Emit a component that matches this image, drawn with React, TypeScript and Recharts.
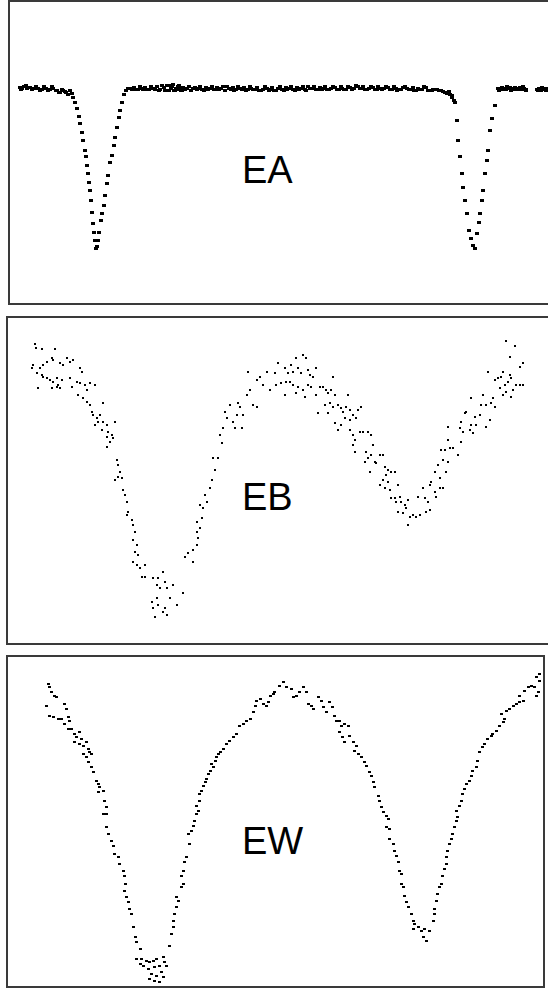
import { ScatterChart, Scatter, XAxis, YAxis } from "recharts";

// light curves: [phase, delta mag] (mag grows downward)
const EA_DATA: [number, number][] = [
  [-0.201, -0.005], [-0.195, 0], [-0.19, -0.01], [-0.182, 0], [-0.174, -0.005], [-0.164, 0],
  [-0.153, 0], [-0.142, 0.005], [-0.132, 0], [-0.121, 0.005], [-0.113, 0], [-0.106, 0.01],
  [-0.098, 0.02], [-0.09, 0.005], [-0.082, 0.015], [-0.074, 0.03], [-0.069, 0.01], [-0.063, 0.025],
  [-0.061, 0.045], [-0.055, 0.07], [-0.05, 0.1], [-0.045, 0.14], [-0.042, 0.175], [-0.037, 0.22],
  [-0.034, 0.26], [-0.029, 0.31], [-0.026, 0.345], [-0.024, 0.385], [-0.021, 0.425], [-0.018, 0.47],
  [-0.016, 0.51], [-0.013, 0.56], [-0.011, 0.62], [-0.008, 0.675], [-0.005, 0.72], [-0.003, 0.76],
  [0, 0.8], [0.003, 0.79], [0.005, 0.76], [0.008, 0.72], [0.013, 0.66], [0.016, 0.625],
  [0.021, 0.585], [0.024, 0.535], [0.029, 0.475], [0.032, 0.435], [0.037, 0.375], [0.042, 0.335],
  [0.048, 0.285], [0.05, 0.245], [0.055, 0.195], [0.061, 0.145], [0.063, 0.11], [0.069, 0.07],
  [0.074, 0.03], [0.079, 0.01], [0.084, 0],
  [0.09, 0], [0.1, -0.005], [0.11, 0.005], [0.12, 0], [0.13, -0.005], [0.14, 0.005], [0.15, 0],
  [0.16, -0.01], [0.17, 0.005], [0.18, -0.005], [0.185, 0.01], [0.19, 0.01], [0.195, -0.015],
  [0.2, -0.01], [0.205, 0.01], [0.21, 0], [0.215, -0.01], [0.22, 0.005], [0.225, 0.01],
  [0.23, -0.005], [0.24, 0], [0.25, 0.01], [0.26, -0.005], [0.27, 0], [0.28, 0.005], [0.29, -0.005],
  [0.3, 0], [0.31, 0.005], [0.32, -0.005], [0.33, 0], [0.34, 0.01], [0.35, 0], [0.36, -0.005],
  [0.37, 0.005], [0.38, 0], [0.39, -0.005], [0.4, 0.005], [0.41, 0], [0.42, 0.005], [0.43, 0.01],
  [0.44, 0.005], [0.45, 0], [0.46, 0.005], [0.47, 0.01], [0.48, 0], [0.49, 0.005], [0.5, -0.005],
  [0.51, 0], [0.52, 0.005], [0.53, -0.005], [0.54, 0], [0.55, 0.005], [0.56, -0.01], [0.57, 0],
  [0.58, 0.005], [0.59, -0.005], [0.6, 0], [0.61, 0.005], [0.62, 0], [0.63, -0.005], [0.64, 0.005],
  [0.65, 0], [0.66, 0.005], [0.67, -0.005], [0.68, 0], [0.69, -0.01], [0.7, 0], [0.71, 0.005],
  [0.72, 0], [0.73, -0.005], [0.74, 0.005], [0.75, 0], [0.76, 0], [0.77, -0.005], [0.78, 0.005],
  [0.79, 0], [0.8, 0.005], [0.81, -0.005], [0.82, 0], [0.83, 0.005], [0.84, 0.01], [0.85, 0],
  [0.86, 0.005], [0.87, -0.005], [0.88, 0.01], [0.89, 0.005], [0.9, 0.005], [0.91, 0.01],
  [0.92, 0.02], [0.93, 0.015], [0.935, 0.03], [0.94, 0.045], [0.945, 0.06], [0.947, 0.07],
  [0.9525, 0.16], [0.955, 0.26], [0.96, 0.345], [0.966, 0.425], [0.968, 0.495], [0.974, 0.56],
  [0.979, 0.625], [0.984, 0.71], [0.989, 0.75], [0.995, 0.785], [1.0, 0.8], [1.005, 0.725],
  [1.011, 0.67], [1.013, 0.625], [1.018, 0.56], [1.021, 0.51], [1.026, 0.425], [1.032, 0.36],
  [1.034, 0.31], [1.04, 0.21], [1.045, 0.15], [1.053, 0.085],
  [1.061, 0], [1.066, 0.005], [1.071, -0.005], [1.076, 0], [1.082, 0.005], [1.087, 0],
  [1.092, -0.005], [1.097, 0.005], [1.103, 0], [1.108, 0.005], [1.113, 0], [1.118, -0.005],
  [1.124, 0.005], [1.13, 0], [1.135, 0.005],
  [1.164, 0.005], [1.169, 0], [1.174, 0.01], [1.18, 0], [1.185, 0.005], [1.19, 0], [1.195, 0.005],
];

// extra out-of-eclipse EA measurements (the band is dense in the original)
const EA_BASELINE_EXTRA: [number, number][] = [
  [-0.198, 0.008], [-0.186, -0.012], [-0.17, 0.008], [-0.158, -0.01], [-0.147, 0.01], [-0.137, -0.008],
  [-0.126, 0.01], [-0.117, -0.006], [-0.102, 0.014], [-0.094, 0.022], [-0.086, 0.012], [-0.078, 0.024],
  [0.095, 0.008], [0.105, 0.006], [0.115, -0.01], [0.125, 0.008], [0.135, 0.006], [0.145, -0.008],
  [0.155, 0.008], [0.165, 0.012], [0.175, -0.012], [0.183, 0.014], [0.188, -0.012], [0.193, 0.014],
  [0.198, 0.004], [0.203, -0.016], [0.208, 0.014], [0.213, 0.006], [0.218, -0.014], [0.223, -0.004],
  [0.228, 0.012], [0.235, 0.006], [0.245, -0.01], [0.255, 0.004], [0.265, 0.008], [0.275, -0.008],
  [0.285, 0.01], [0.295, 0.006], [0.305, -0.01], [0.315, 0.008], [0.325, 0.006], [0.335, -0.008],
  [0.345, -0.006], [0.355, 0.008], [0.365, 0.01], [0.375, -0.008], [0.385, 0.006], [0.395, 0.01],
  [0.405, -0.008], [0.415, 0.008], [0.425, -0.004], [0.435, 0.014], [0.445, -0.006], [0.455, 0.01],
  [0.465, -0.004], [0.475, 0.014], [0.485, -0.006], [0.495, 0.01], [0.505, 0.008], [0.515, -0.01],
  [0.525, 0.01], [0.535, 0.006], [0.545, -0.01], [0.555, 0.01], [0.565, 0.004], [0.575, -0.008],
  [0.585, 0.008], [0.595, 0.006], [0.605, -0.01], [0.615, 0.008], [0.625, -0.01], [0.635, 0.008],
  [0.645, -0.006], [0.655, 0.008], [0.665, -0.008], [0.675, 0.006], [0.685, -0.014], [0.695, 0.004],
  [0.705, -0.008], [0.715, 0.008], [0.725, -0.01], [0.735, 0.008], [0.745, -0.006], [0.755, 0.006],
  [0.765, -0.008], [0.775, 0.008], [0.785, -0.006], [0.795, 0.01], [0.805, 0.006], [0.815, -0.008],
  [0.825, 0.008], [0.835, -0.004], [0.845, 0.014], [0.855, 0.006], [0.865, -0.006], [0.875, 0.01],
  [0.885, 0.014], [0.895, 0.008], [0.905, 0.014], [0.915, 0.016], [0.925, 0.026], [0.938, 0.036],
  [1.064, 0.01], [1.074, 0.006], [1.085, -0.006], [1.095, 0.01], [1.106, -0.004], [1.116, 0.008],
  [1.127, -0.006], [1.133, 0.01], [1.167, 0.012], [1.177, -0.004], [1.188, 0.012],
];

const EB_DATA: [number, number][] = [
  [-0.25, 0.047], [-0.248, 0.067], [-0.236, 0.07], [-0.21, 0.07], [-0.254, 0.15], [-0.256, 0.165],
  [-0.24, 0.165], [-0.234, 0.15], [-0.226, 0.135], [-0.216, 0.115], [-0.214, 0.125], [-0.2, 0.14],
  [-0.194, 0.15], [-0.186, 0.115], [-0.18, 0.135], [-0.174, 0.125], [-0.246, 0.19], [-0.236, 0.2],
  [-0.234, 0.21], [-0.226, 0.215], [-0.22, 0.225], [-0.214, 0.235], [-0.206, 0.215], [-0.204, 0.25],
  [-0.196, 0.225], [-0.244, 0.265], [-0.216, 0.265], [-0.206, 0.26], [-0.2, 0.265], [-0.18, 0.215],
  [-0.176, 0.26], [-0.16, 0.165], [-0.156, 0.185], [-0.166, 0.235], [-0.16, 0.24], [-0.15, 0.25],
  [-0.14, 0.24], [-0.13, 0.25], [-0.164, 0.3], [-0.154, 0.315], [-0.146, 0.335], [-0.14, 0.35],
  [-0.146, 0.275], [-0.114, 0.34], [-0.136, 0.385], [-0.134, 0.4], [-0.126, 0.415], [-0.12, 0.4],
  [-0.124, 0.435], [-0.114, 0.435], [-0.106, 0.45], [-0.09, 0.435], [-0.13, 0.45], [-0.116, 0.475],
  [-0.104, 0.485], [-0.096, 0.5], [-0.094, 0.515], [-0.106, 0.51], [-0.1, 0.535], [-0.106, 0.56],
  [-0.086, 0.625], [-0.084, 0.65], [-0.08, 0.685], [-0.09, 0.725], [-0.084, 0.71], [-0.076, 0.715],
  [-0.074, 0.775], [-0.07, 0.8], [-0.066, 0.835], [-0.064, 0.885], [-0.066, 0.9], [-0.056, 0.925],
  [-0.054, 0.95], [-0.05, 0.985], [-0.054, 1.025], [-0.046, 1.05], [-0.05, 1.085], [-0.044, 1.1],
  [-0.054, 1.135], [-0.046, 1.15], [-0.04, 1.165], [-0.03, 1.15],
  [-0.036, 1.21], [-0.03, 1.21], [-0.014, 1.215], [-0.004, 1.215], [0.006, 1.185], [0.01, 1.235],
  [-0.006, 1.25], [0, 1.265], [0.014, 1.265], [0.026, 1.25], [0.046, 1.29], [-0.006, 1.315],
  [0.02, 1.315], [-0.016, 1.335], [-0.004, 1.35], [0.01, 1.365], [0.034, 1.35], [-0.014, 1.365],
  [0.006, 1.385], [0.014, 1.4], [-0.01, 1.41],
  [0.05, 1.11], [0.056, 1.09], [0.066, 1.075], [0.066, 1.135], [0.074, 1.05], [0.076, 1.015],
  [0.074, 0.985], [0.08, 0.965], [0.084, 0.915], [0.074, 0.935], [0.086, 0.865], [0.094, 0.835],
  [0.08, 0.85], [0.09, 0.8], [0.1, 0.765], [0.104, 0.725], [0.11, 0.675], [0.116, 0.615],
  [0.106, 0.615], [0.124, 0.54], [0.12, 0.5], [0.126, 0.465], [0.134, 0.415], [0.13, 0.385],
  [0.14, 0.35], [0.146, 0.435], [0.15, 0.465], [0.154, 0.4], [0.156, 0.34], [0.16, 0.36],
  [0.166, 0.4], [0.164, 0.465], [0.174, 0.3], [0.18, 0.275], [0.186, 0.35], [0.194, 0.36],
  [0.194, 0.225], [0.2, 0.21], [0.206, 0.25], [0.214, 0.185], [0.22, 0.275], [0.176, 0.185],
  [0.23, 0.19], [0.236, 0.14], [0.25, 0.165], [0.256, 0.19], [0.262, 0.15], [0.266, 0.185],
  [0.272, 0.115], [0.276, 0.165], [0.282, 0.19], [0.286, 0.1], [0.292, 0.115], [0.296, 0.175],
  [0.3, 0.2], [0.306, 0.21], [0.312, 0.165], [0.232, 0.25], [0.242, 0.24], [0.252, 0.235],
  [0.26, 0.235], [0.266, 0.25], [0.25, 0.3], [0.272, 0.29], [0.276, 0.26], [0.286, 0.275],
  [0.29, 0.31], [0.296, 0.25], [0.302, 0.26], [0.312, 0.3], [0.32, 0.26], [0.326, 0.26],
  [0.332, 0.275], [0.336, 0.29], [0.342, 0.275], [0.346, 0.21], [0.35, 0.3], [0.33, 0.35],
  [0.34, 0.34], [0.346, 0.36], [0.356, 0.35], [0.362, 0.365], [0.366, 0.385], [0.372, 0.36],
  [0.376, 0.3], [0.38, 0.375], [0.386, 0.4], [0.396, 0.375], [0.402, 0.36], [0.316, 0.39],
  [0.336, 0.39], [0.35, 0.44], [0.356, 0.475], [0.362, 0.45], [0.37, 0.415], [0.38, 0.425],
  [0.392, 0.415],
  [0.38, 0.475], [0.386, 0.5], [0.39, 0.525], [0.386, 0.55], [0.39, 0.585], [0.4, 0.485],
  [0.406, 0.485], [0.416, 0.485], [0.422, 0.5], [0.426, 0.55], [0.412, 0.585], [0.416, 0.615],
  [0.41, 0.635], [0.422, 0.6], [0.43, 0.635], [0.44, 0.6], [0.446, 0.6], [0.432, 0.64],
  [0.42, 0.685], [0.45, 0.66], [0.456, 0.675], [0.452, 0.7], [0.462, 0.685], [0.47, 0.685],
  [0.446, 0.725], [0.456, 0.735], [0.44, 0.75], [0.45, 0.765], [0.46, 0.775], [0.476, 0.75],
  [0.462, 0.815], [0.472, 0.835], [0.47, 0.815], [0.48, 0.81], [0.482, 0.835], [0.49, 0.85],
  [0.496, 0.825], [0.492, 0.865], [0.476, 0.885], [0.486, 0.89], [0.5, 0.91], [0.506, 0.9],
  [0.512, 0.91], [0.52, 0.9], [0.532, 0.885], [0.54, 0.875], [0.496, 0.95],
  [0.516, 0.81], [0.526, 0.765], [0.53, 0.815], [0.536, 0.835], [0.54, 0.75], [0.542, 0.735],
  [0.55, 0.785], [0.552, 0.81], [0.56, 0.765], [0.566, 0.765], [0.55, 0.685], [0.556, 0.65],
  [0.56, 0.715], [0.572, 0.685], [0.566, 0.625], [0.576, 0.635], [0.562, 0.575], [0.57, 0.575],
  [0.58, 0.565], [0.586, 0.565], [0.596, 0.6], [0.576, 0.525], [0.576, 0.46], [0.602, 0.535],
  [0.6, 0.465], [0.602, 0.435], [0.61, 0.39], [0.612, 0.385], [0.606, 0.485], [0.62, 0.475],
  [0.626, 0.49], [0.622, 0.45], [0.632, 0.45], [0.63, 0.41], [0.64, 0.4], [0.622, 0.315],
  [0.646, 0.3], [0.652, 0.46], [0.66, 0.425], [0.642, 0.35], [0.652, 0.35], [0.662, 0.34],
  [0.67, 0.36], [0.666, 0.315], [0.656, 0.185], [0.67, 0.225], [0.676, 0.215], [0.682, 0.21],
  [0.686, 0.185], [0.69, 0.25], [0.696, 0.235], [0.7, 0.2], [0.702, 0.215], [0.68, 0.265],
  [0.692, 0.285], [0.686, 0.3], [0.706, 0.275], [0.712, 0.25], [0.72, 0.25], [0.726, 0.25],
  [0.702, 0.31], [0.72, 0.16], [0.726, 0.14], [0.7, 0.11], [0.71, 0.055], [0.692, 0.03],
];

const EW_DATA: [number, number][] = [
  [-0.213, -0.03], [-0.21, -0.013], [-0.207, 0.012], [-0.2, 0.028], [-0.197, 0.037], [-0.217, 0.078],
  [-0.21, 0.128], [-0.203, 0.137], [-0.193, 0.145], [-0.187, 0.145], [-0.18, 0.07], [-0.177, 0.095],
  [-0.173, 0.137], [-0.17, 0.153], [-0.18, 0.17], [-0.173, 0.195], [-0.167, 0.195], [-0.16, 0.22],
  [-0.157, 0.237], [-0.15, 0.212], [-0.147, 0.245], [-0.16, 0.262], [-0.15, 0.27], [-0.143, 0.278],
  [-0.137, 0.262], [-0.133, 0.295], [-0.13, 0.312], [-0.143, 0.32], [-0.137, 0.337], [-0.127, 0.32],
  [-0.133, 0.362], [-0.127, 0.387], [-0.123, 0.412], [-0.117, 0.453], [-0.113, 0.47], [-0.11, 0.487],
  [-0.113, 0.512], [-0.103, 0.503], [-0.1, 0.553], [-0.097, 0.587], [-0.103, 0.62], [-0.097, 0.62],
  [-0.097, 0.687], [-0.093, 0.72], [-0.087, 0.753], [-0.083, 0.778], [-0.08, 0.82], [-0.073, 0.837],
  [-0.07, 0.87], [-0.063, 0.903], [-0.06, 0.928], [-0.058, 0.97], [-0.06, 1.003], [-0.057, 1.037],
  [-0.053, 1.062], [-0.05, 1.095], [-0.047, 1.12], [-0.043, 1.187], [-0.04, 1.237], [-0.037, 1.262],
  [-0.03, 1.295],
  [-0.037, 1.345], [-0.027, 1.345], [-0.017, 1.353], [-0.03, 1.37], [-0.023, 1.378], [-0.01, 1.362],
  [-0.003, 1.353], [0.003, 1.345], [0.017, 1.337], [0.02, 1.362], [-0.013, 1.395], [0, 1.387],
  [0.01, 1.378], [0.023, 1.378], [-0.007, 1.42], [0.003, 1.428], [0.013, 1.412], [-0.01, 1.445],
  [0, 1.453], [0.01, 1.462], [0.017, 1.437],
  [0.03, 1.278], [0.033, 1.22], [0.037, 1.187], [0.037, 1.153], [0.04, 1.12], [0.043, 1.087],
  [0.047, 1.053], [0.043, 1.037], [0.053, 0.987], [0.057, 0.97], [0.053, 0.928], [0.057, 0.903],
  [0.06, 0.862], [0.063, 0.837], [0.07, 0.77], [0.067, 0.72], [0.073, 0.703], [0.077, 0.678],
  [0.08, 0.653], [0.083, 0.62], [0.087, 0.603], [0.083, 0.578], [0.09, 0.553], [0.09, 0.52],
  [0.093, 0.503], [0.097, 0.478], [0.1, 0.462], [0.103, 0.445], [0.107, 0.42], [0.11, 0.403],
  [0.117, 0.387], [0.113, 0.37], [0.12, 0.353], [0.123, 0.337], [0.127, 0.32], [0.13, 0.312],
  [0.137, 0.295], [0.143, 0.27], [0.15, 0.253], [0.157, 0.237], [0.163, 0.22], [0.17, 0.178],
  [0.177, 0.17], [0.183, 0.153], [0.19, 0.145], [0.197, 0.112], [0.2, 0.078], [0.203, 0.053],
  [0.21, 0.045], [0.217, 0.07], [0.223, 0.078], [0.227, 0.062], [0.23, 0.028], [0.237, 0.02],
  [0.239, 0.012], [0.249, -0.022], [0.256, -0.038], [0.263, -0.013], [0.273, -0.005], [0.276, 0.037],
  [0.283, 0.028], [0.289, 0.012], [0.296, -0.013], [0.303, 0.012], [0.306, 0.07], [0.313, 0.078],
  [0.316, 0.095], [0.326, 0.037], [0.333, 0.053], [0.336, 0.087], [0.343, 0.112], [0.349, 0.062],
  [0.356, 0.087], [0.359, 0.128], [0.363, 0.153], [0.369, 0.153], [0.373, 0.178], [0.379, 0.17],
  [0.386, 0.178], [0.369, 0.212], [0.376, 0.237], [0.379, 0.262], [0.389, 0.228], [0.396, 0.262],
  [0.403, 0.278], [0.399, 0.303], [0.406, 0.32], [0.413, 0.337], [0.419, 0.362], [0.423, 0.378],
  [0.429, 0.412], [0.433, 0.428], [0.436, 0.462], [0.439, 0.487], [0.446, 0.528], [0.449, 0.553],
  [0.453, 0.587], [0.456, 0.612], [0.463, 0.628], [0.466, 0.645], [0.463, 0.687], [0.469, 0.695],
  [0.469, 0.745], [0.476, 0.77], [0.479, 0.803], [0.483, 0.828], [0.486, 0.862], [0.489, 0.903],
  [0.493, 0.92], [0.493, 0.97], [0.496, 0.987], [0.499, 1.028], [0.503, 1.062], [0.506, 1.087],
  [0.513, 1.12], [0.516, 1.153], [0.519, 1.17], [0.516, 1.195], [0.526, 1.187], [0.533, 1.203],
  [0.539, 1.195], [0.549, 1.203], [0.536, 1.237], [0.543, 1.253],
  [0.556, 1.153], [0.559, 1.12], [0.559, 1.095], [0.563, 1.053], [0.566, 1.02], [0.569, 0.987],
  [0.573, 0.97], [0.576, 0.928], [0.579, 0.895], [0.583, 0.87], [0.583, 0.837], [0.586, 0.803],
  [0.589, 0.77], [0.593, 0.745], [0.596, 0.72], [0.599, 0.687], [0.603, 0.653], [0.606, 0.637],
  [0.603, 0.603], [0.609, 0.578], [0.613, 0.553], [0.616, 0.52], [0.619, 0.495], [0.623, 0.47],
  [0.629, 0.453], [0.633, 0.428], [0.636, 0.403], [0.643, 0.387], [0.646, 0.353], [0.649, 0.312],
  [0.656, 0.287], [0.659, 0.27], [0.666, 0.245], [0.673, 0.228], [0.676, 0.22], [0.683, 0.203],
  [0.689, 0.178], [0.696, 0.162], [0.699, 0.145], [0.693, 0.12], [0.703, 0.103], [0.709, 0.095],
  [0.716, 0.078], [0.723, 0.07], [0.729, 0.062], [0.736, 0.053], [0.729, 0.028], [0.739, 0.003],
  [0.746, -0.013], [0.753, -0.022], [0.759, -0.013], [0.763, 0.028], [0.766, 0.012], [0.769, -0.047],
  [0.769, -0.08], [0.763, -0.063],
];

const toPoints = (arr: [number, number][]) => arr.map(([x, y]) => ({ x, y }));

const mark = (w: number, h: number) => (props: any) => (
  <rect
    x={Math.round(props.cx - w / 2)}
    y={Math.round(props.cy - h / 2)}
    width={w}
    height={h}
    fill="#000"
    shapeRendering="crispEdges"
  />
);

function Panel({
  name, series, left, top, width, height, xDomain, yDomain, labelTop, dotW, dotH,
}: {
  name: string; series: [number, number][][]; left: number; top: number; width: number; height: number;
  xDomain: [number, number]; yDomain: [number, number]; labelTop: number; dotW: number; dotH: number;
}) {
  return (
    <>
      <div
        style={{
          position: "absolute", left, top, width, height, boxSizing: "border-box",
          border: "2px solid #3a3a3a", background: "#fff",
        }}
      >
        <ScatterChart width={width - 4} height={height - 4} margin={{ top: 0, right: 0, bottom: 0, left: 0 }}>
          <XAxis type="number" dataKey="x" domain={xDomain} allowDataOverflow hide />
          <YAxis type="number" dataKey="y" domain={yDomain} allowDataOverflow reversed hide />
          {series.map((s, i) => (
            <Scatter key={i} data={toPoints(s)} shape={mark(dotW, dotH)} isAnimationActive={false} />
          ))}
        </ScatterChart>
      </div>
      <div
        style={{
          position: "absolute", left: 242, top: labelTop, fontFamily: '"Liberation Sans", Arial, sans-serif',
          fontSize: 38, lineHeight: "38px", color: "#000",
        }}
      >
        {name}
      </div>
    </>
  );
}

export default function App() {
  return (
    <div style={{ position: "absolute", left: 0, top: 0, width: 548, height: 991, overflow: "hidden", background: "#fff" }}>
      <Panel name="EA" series={[EA_DATA, EA_BASELINE_EXTRA]} left={8} top={0} width={562} height={305}
        xDomain={[-0.227, 1.245]} yDomain={[-0.43, 1.075]} labelTop={151} dotW={4} dotH={3} />
      <Panel name="EB" series={[EB_DATA]} left={6} top={316} width={562} height={329}
        xDomain={[-0.304, 0.812]} yDomain={[-0.085, 1.54]} labelTop={478} dotW={2} dotH={2} />
      <Panel name="EW" series={[EW_DATA]} left={6} top={655} width={539} height={333}
        xDomain={[-0.294, 0.776]} yDomain={[-0.165, 1.48]} labelTop={822} dotW={3} dotH={2} />
    </div>
  );
}
